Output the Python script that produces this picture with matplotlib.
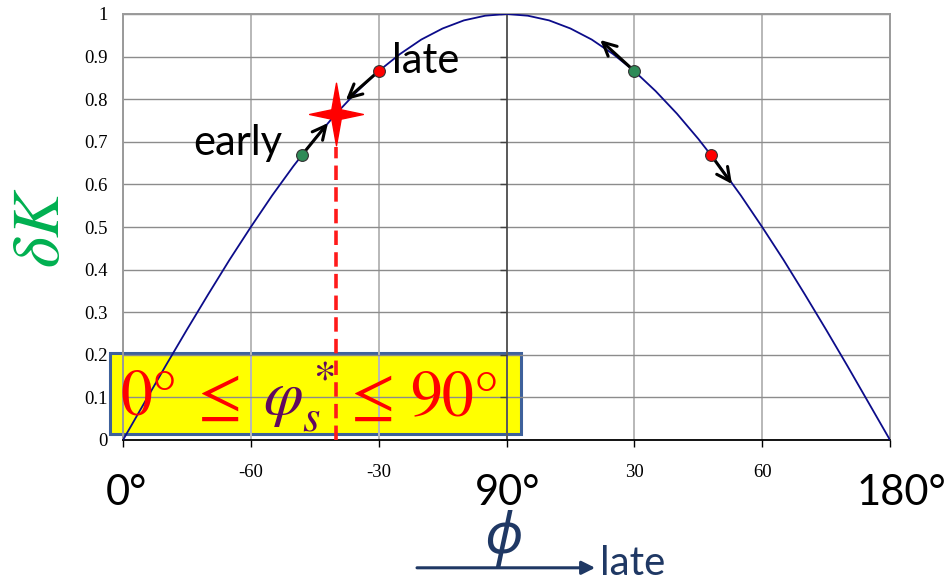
import matplotlib
matplotlib.use("Agg")
import matplotlib.pyplot as plt
import matplotlib.transforms as mtransforms
from matplotlib.path import Path
from matplotlib.patches import Rectangle
from matplotlib.markers import TICKLEFT

plt.rcParams['mathtext.fontset'] = 'stix'

# ---- data -------------------------------------------------------------
phi_deg = [0, 5, 10, 15, 20, 25, 30, 35, 40, 45, 50, 55, 60, 65, 70, 75, 80, 85, 90,
           95, 100, 105, 110, 115, 120, 125, 130, 135, 140, 145, 150, 155, 160, 165,
           170, 175, 180]
delta_k = [0.000, 0.087, 0.174, 0.259, 0.342, 0.423, 0.500, 0.574, 0.643, 0.707,
           0.766, 0.819, 0.866, 0.906, 0.940, 0.966, 0.985, 0.996, 1.000,
           0.996, 0.985, 0.966, 0.940, 0.906, 0.866, 0.819, 0.766, 0.707, 0.643,
           0.574, 0.500, 0.423, 0.342, 0.259, 0.174, 0.087, 0.000]

# marked states on the curve
early_phi = [42, 120]
early_dk = [0.669, 0.866]
late_phi = [60, 138]
late_dk = [0.866, 0.669]

# direction arrows: start -> end
arrow_start_phi = [42, 60, 120, 138]
arrow_start_dk = [0.669, 0.866, 0.866, 0.669]
arrow_end_phi = [48.1, 52.3, 112.0, 142.9]
arrow_end_dk = [0.744, 0.798, 0.939, 0.601]

# stable point
star_phi = 50
star_dk = 0.766

x_ticks = [0, 30, 60, 90, 120, 150, 180]
x_tick_labels = ['', '-60', '-30', '', '30', '60', '']
big_x_labels = ['0°', '90°', '180°']
big_x_pos = [0.9, 90.2, 182.6]
y_ticks = [0, 0.1, 0.2, 0.3, 0.4, 0.5, 0.6, 0.7, 0.8, 0.9, 1.0]
y_tick_labels = ['0', '0.1', '0.2', '0.3', '0.4', '0.5', '0.6', '0.7', '0.8', '0.9', '1']

# ---- figure -----------------------------------------------------------
W, H = 945, 583
fig = plt.figure(figsize=(W / 100, H / 100), dpi=100)
ax = fig.add_axes([123 / W, 1 - 440 / H, 767 / W, 426 / H])
ax.set_xlim(0, 180)
ax.set_ylim(0, 1)

ax.set_xticks(x_ticks)
ax.set_xticklabels(x_tick_labels, fontfamily='Liberation Serif', fontsize=13.5)
ax.set_yticks(y_ticks)
ax.set_yticklabels(y_tick_labels, fontfamily='Liberation Serif', fontsize=13.5)
ax.tick_params(axis='x', length=5, width=1, color='black', pad=12)
ax.tick_params(axis='y', length=0, pad=11)

ax.yaxis.grid(True, color='#8c8c8c', lw=1.0)
ax.xaxis.grid(True, color='#b8b8b8', lw=1.4)
for side in ('left', 'top', 'right'):
    ax.spines[side].set_color('#9a9a9a')
    ax.spines[side].set_linewidth(1.4)
ax.spines['bottom'].set_color('black')
ax.spines['bottom'].set_linewidth(1.3)

# central vertical axis at 90 degrees with its own small ticks
ax.axvline(90, color='#5a5a5a', lw=1.4, zorder=1.6)
ax.plot([90] * len(y_ticks), y_ticks, linestyle='none', marker=TICKLEFT,
        markersize=5, markeredgewidth=1, color='#404040', zorder=1.7)

# highlighted range box
ax.add_patch(Rectangle((-3.05, 0.014), 96.5, 0.19, transform=ax.transData,
                       facecolor='#ffff00', edgecolor='#3e619b', lw=2.2,
                       clip_on=False, zorder=1))

# curve
ax.plot(phi_deg, delta_k, color='#0c0c8a', lw=1.3, zorder=3)

# dashed drop line from the stable point
ax.vlines(star_phi, 0, star_dk - 0.078, colors='#ff1a1a', lw=2.6,
          linestyles=(0, (4, 2.0)), zorder=4)

# arrows
for x0, y0, x1, y1 in zip(arrow_start_phi, arrow_start_dk, arrow_end_phi, arrow_end_dk):
    ax.annotate('', xy=(x1, y1), xytext=(x0, y0),
                arrowprops=dict(arrowstyle='->', color='black', lw=2.2,
                                shrinkA=0, shrinkB=0, mutation_scale=24),
                zorder=5)

# points
ax.plot(early_phi, early_dk, 'o', ms=8.5, mfc='#2e8b57', mec='#333333', mew=0.8, zorder=6)
ax.plot(late_phi, late_dk, 'o', ms=8.5, mfc='#ff0000', mec='#333333', mew=0.8, zorder=6)

# four-point star
star_path = Path([(0, 1), (0.15, 0.15), (0.86, 0), (0.15, -0.15), (0, -1),
                  (-0.15, -0.15), (-0.86, 0), (-0.15, 0.15), (0, 1)],
                 [Path.MOVETO] + [Path.LINETO] * 7 + [Path.CLOSEPOLY])
ax.plot([star_phi], [star_dk], linestyle='none', marker=star_path, markersize=45,
        color='#ff0000', mec='#ff0000', zorder=7)

# annotations
ax.text(63.1, 0.861, 'late', fontfamily='Lato', fontsize=30, color='black',
        va='baseline', ha='left', zorder=8)
ax.text(16.4, 0.669, 'early', fontfamily='Lato', fontsize=30, color='black',
        va='baseline', ha='left', zorder=8)

# text inside the box
box_fs = 46
ax.text(-0.7, 0.059, '0°', fontfamily='STIXGeneral', fontsize=box_fs, color='#ff0000',
        va='baseline', ha='left', zorder=8, clip_on=False)
ax.text(17.5, 0.059, '≤', fontfamily='STIXGeneral', fontsize=box_fs, color='#ff0000',
        va='baseline', ha='left', zorder=8, clip_on=False)
ax.text(32.9, 0.059, r'$\varphi_s^*$', fontsize=box_fs, color='#600860',
        va='baseline', ha='left', zorder=8, clip_on=False)
ax.text(53.5, 0.059, '≤', fontfamily='STIXGeneral', fontsize=box_fs, color='#ff0000',
        va='baseline', ha='left', zorder=8, clip_on=False)
ax.text(67.5, 0.059, '90°', fontfamily='STIXGeneral', fontsize=box_fs, color='#ff0000',
        va='baseline', ha='left', zorder=8, clip_on=False)

# large phase labels below the axis
trans = mtransforms.blended_transform_factory(ax.transData, ax.transAxes)
for lab, xp in zip(big_x_labels, big_x_pos):
    ax.text(xp, -0.1526, lab, transform=trans, fontfamily='Lato', fontsize=30,
            color='black', ha='center', va='baseline', clip_on=False)

# axis title and direction arrow
ax.text(89.2, -0.232, 'ϕ', transform=trans, fontfamily=['Noto Sans', 'DejaVu Sans'],
        fontstyle='italic', fontsize=41, color='#1f3864', ha='center', va='center',
        clip_on=False)
ax.annotate('', xy=(110.8, -0.30), xytext=(69.0, -0.30), xycoords=trans,
            textcoords=trans, annotation_clip=False,
            arrowprops=dict(arrowstyle='-|>', color='#1f3864', lw=2.2,
                            shrinkA=0, shrinkB=0, mutation_scale=20))
ax.text(111.9, -0.316, 'late', transform=trans, fontfamily='Lato', fontsize=29,
        color='#1f3864', ha='left', va='baseline', clip_on=False)

# y label
fig.text(40 / W, 1 - 228 / H, r'$\delta K$', fontsize=48, color='#00b050',
         rotation=90, ha='center', va='center')

fig.savefig('out.png', dpi=100)
